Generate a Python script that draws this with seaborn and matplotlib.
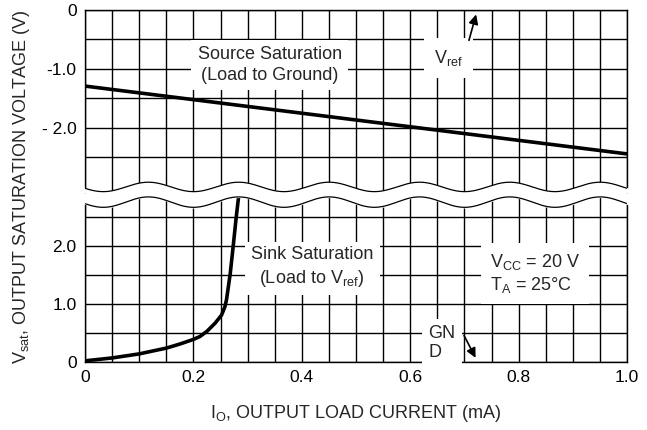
import numpy as np
import seaborn as sns
import matplotlib.pyplot as plt

# upper panel: source saturation (load to ground)
source_current = [0.0, 0.2, 0.4, 0.6, 0.8, 1.0]
source_vsat = [-1.29, -1.52, -1.75, -1.98, -2.21, -2.44]

# lower panel: sink saturation (load to Vref)
sink_current = [0.0, 0.05, 0.10, 0.15, 0.175, 0.20, 0.212, 0.225, 0.240, 0.252,
                0.258, 0.261, 0.268, 0.274, 0.279, 0.284]
sink_vsat = [0.02, 0.07, 0.14, 0.24, 0.31, 0.39, 0.44, 0.53, 0.67, 0.81,
             0.95, 1.07, 1.53, 2.05, 2.50, 2.90]

x_ticks = [0.0, 0.2, 0.4, 0.6, 0.8, 1.0]
x_tick_labels = ["0", "0.2", "0.4", "0.6", "0.8", "1.0"]
top_ticks = [-2.5, -2.0, -1.5, -1.0, -0.5, 0.0]
top_tick_labels = ["", "- 2.0", "", "-1.0", "", "0"]
bot_ticks = [0.0, 0.5, 1.0, 1.5, 2.0, 2.5]
bot_tick_labels = ["0", "", "1.0", "", "2.0", ""]

sns.set_theme(style="ticks")
plt.rcParams['font.family'] = ['Liberation Sans', 'DejaVu Sans']
plt.rcParams['axes.edgecolor'] = 'black'

fig = plt.figure(figsize=(6.47, 4.30), dpi=100)
W, H = 647, 430
left, right = 85, 627
ax_top = fig.add_axes([left / W, (H - 194) / H, (right - left) / W, 184 / H])
ax_bot = fig.add_axes([left / W, (H - 362) / H, (right - left) / W, 168 / H])

top_lim = (-3.12, 0)
bot_lim = (0, 2.9)

grid_x = np.arange(0, 1.0001, 0.05)
for ax in (ax_top, ax_bot):
    ax.set_xlim(0, 1)
    ax.set_xticks(grid_x)
    ax.grid(True, color='black', linewidth=1.0)
    ax.set_axisbelow(True)
    ax.tick_params(length=0, labelsize=12.5, colors='black', pad=6)
    for s in ax.spines.values():
        s.set_linewidth(1.0)
        s.set_color('black')

ax_top.set_ylim(*top_lim)
ax_top.set_yticks(top_ticks)
ax_top.set_yticklabels(top_tick_labels)
ax_top.set_xticklabels([])
ax_top.spines['bottom'].set_visible(False)

ax_bot.set_ylim(*bot_lim)
ax_bot.set_yticks(bot_ticks)
ax_bot.set_yticklabels(bot_tick_labels)
ax_bot.set_xticklabels([x_tick_labels[x_ticks.index(round(t, 2))] if round(t, 2) in x_ticks else ""
                        for t in grid_x])
ax_bot.spines['top'].set_visible(False)

# data curves
sns.lineplot(x=source_current, y=source_vsat, ax=ax_top, color='black',
             linewidth=2.6, estimator=None, zorder=2)
sns.lineplot(x=sink_current, y=sink_vsat, ax=ax_bot, color='black',
             linewidth=2.6, estimator=None, zorder=2)

# wavy axis break
wx = np.linspace(-0.02, 1.02, 500)
phase = np.cos(2 * np.pi * (wx - 0.117) / 0.1667)
top_wave = -3.0 + 0.08 * phase
bot_wave = 2.76 + 0.09 * phase
inside = (wx >= 0) & (wx <= 1)

ax_top.fill_between(wx, top_wave, top_lim[0], color='white', zorder=3, clip_on=False)
ax_top.plot(wx[inside], top_wave[inside], color='black', lw=0.9, zorder=3.1)
ax_bot.fill_between(wx, bot_wave, bot_lim[1], color='white', zorder=3, clip_on=False)
ax_bot.plot(wx[inside], bot_wave[inside], color='black', lw=0.9, zorder=3.1)

box = dict(boxstyle='square,pad=0.35', fc='white', ec='none')
ax_top.text(0.341, -0.93, "Source Saturation\n(Load to Ground)", ha='center', va='center',
            fontsize=13, linespacing=1.3, bbox=box, zorder=5)
ax_top.text(0.67, -0.81, r"V$_{\mathregular{ref}}$", ha='center', va='center',
            fontsize=13, bbox=dict(boxstyle='square,pad=0.55', fc='white', ec='none'), zorder=5)
ax_top.annotate("", xy=(0.723, -0.03), xytext=(0.707, -0.56),
                arrowprops=dict(arrowstyle='-|>', color='black', lw=1.2, mutation_scale=14),
                zorder=6)

ax_bot.text(0.419, 1.63, "Sink Saturation\n(Load to V$_{\\mathregular{ref}}$)", ha='center', va='center',
            fontsize=13, linespacing=1.3, bbox=box, zorder=5)
ax_bot.text(0.747, 1.52, "V$_{\\mathregular{CC}}$ = 20 V\nT$_{\\mathregular{A}}$ = 25°C", ha='left', va='center',
            fontsize=13, linespacing=1.2, bbox=dict(boxstyle='square,pad=0.5', fc='white', ec='none'), zorder=5)
ax_bot.text(0.633, 0.33, "GN\nD", ha='left', va='center', fontsize=13, linespacing=1.1,
            bbox=dict(boxstyle='square,pad=0.35', fc='white', ec='none'), zorder=5)
ax_bot.annotate("", xy=(0.723, 0.03), xytext=(0.697, 0.50),
                arrowprops=dict(arrowstyle='-|>', color='black', lw=1.2, mutation_scale=14),
                zorder=6)

fig.text(22 / W, 1 - 187 / H, "V$_{\\mathregular{sat}}$, OUTPUT SATURATION VOLTAGE (V)",
         rotation=90, ha='center', va='center', fontsize=13)
fig.text(356 / W, 1 - 413 / H, "I$_{\\mathregular{O}}$, OUTPUT LOAD CURRENT (mA)",
         ha='center', va='center', fontsize=13)

plt.savefig("out.png", dpi=100)
